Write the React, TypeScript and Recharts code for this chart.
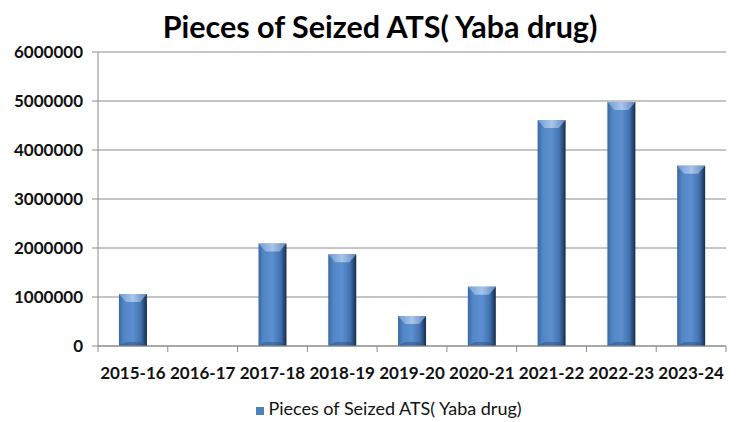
import React from 'react';
import { BarChart, Bar, XAxis, YAxis, CartesianGrid, Legend } from 'recharts';

const years = ['2015-16', '2016-17', '2017-18', '2018-19', '2019-20', '2020-21', '2021-22', '2022-23', '2023-24'];
const seized = [1060000, 0, 2090000, 1870000, 610000, 1210000, 4610000, 4980000, 3680000];
const yTicks = [0, 1000000, 2000000, 3000000, 4000000, 5000000, 6000000];

const SERIES = 'Pieces of Seized ATS( Yaba drug)';
const FONT = 'Lato, "Open Sans", sans-serif';

const data = years.map((year, i) => ({ year, value: seized[i] }));

const BevelBar = (props: any) => {
  const { x, y, width, height } = props;
  if (!height || height <= 0) return null;
  const b = Math.min(8, height / 2);
  const inset = Math.min(7, width / 4);
  return (
    <g>
      <rect x={x} y={y} width={width} height={height} fill="url(#barBody)" />
      <polygon
        points={`${x},${y} ${x + width},${y} ${x + width - inset},${y + b} ${x + inset},${y + b}`}
        fill="url(#barTop)"
      />
      <polygon
        points={`${x},${y + height} ${x + width},${y + height} ${x + width - inset},${y + height - 4} ${x + inset},${y + height - 4}`}
        fill="#2a4c7c"
        opacity={0.45}
      />
    </g>
  );
};

const YearTick = (props: any) => {
  const { x, y, payload, index, width, visibleTicksCount } = props;
  const band = (width || 628) / (visibleTicksCount || years.length);
  const half = band / 2;
  return (
    <g>
      <line x1={x - half} y1={y} x2={x - half} y2={y + 6} stroke="#8c8c8c" />
      {index === years.length - 1 && (
        <line x1={x + half} y1={y} x2={x + half} y2={y + 6} stroke="#8c8c8c" />
      )}
      <text x={x} y={y + 33} textAnchor="middle" fontFamily={FONT} fontWeight={700} fontSize={17} fill="#111">
        {payload.value}
      </text>
    </g>
  );
};

export default function App() {
  return (
    <div style={{ position: 'relative', width: 740, height: 414 }}>
      <div style={{ position: 'absolute', left: -4, top: 4, width: 1, height: 420, background: '#a6a6a6' }} />
      <div
        style={{
          position: 'absolute',
          left: -8,
          top: 0,
          width: 760,
          textAlign: 'center',
          fontFamily: FONT,
          fontWeight: 700,
          fontSize: 30.5,
          color: '#000',
          zIndex: 1,
        }}
      >
        {SERIES}
      </div>
      <BarChart
        width={740}
        height={414}
        data={data}
        margin={{ top: 44, right: 22, left: 0, bottom: 0 }}
        barCategoryGap="30%"
      >
        <defs>
          <linearGradient id="barBody" x1="0" y1="0" x2="1" y2="0">
            <stop offset="0%" stopColor="#3a67a3" />
            <stop offset="18%" stopColor="#5287c6" />
            <stop offset="50%" stopColor="#5b8fd0" />
            <stop offset="78%" stopColor="#4272b0" />
            <stop offset="100%" stopColor="#162c4d" />
          </linearGradient>
          <linearGradient id="barTop" x1="0" y1="0" x2="1" y2="0">
            <stop offset="0%" stopColor="#6f9bd3" />
            <stop offset="50%" stopColor="#a9c5ea" />
            <stop offset="100%" stopColor="#5d86bd" />
          </linearGradient>
        </defs>
        <CartesianGrid vertical={false} stroke="#8c8c8c" />
        <XAxis
          dataKey="year"
          axisLine={{ stroke: '#8c8c8c' }}
          tickLine={false}
          tickSize={0}
          tickMargin={0}
          height={54}
          interval={0}
          tick={<YearTick />}
        />
        <YAxis
          width={90}
          domain={[0, 6000000]}
          ticks={yTicks}
          axisLine={{ stroke: '#8c8c8c' }}
          tickLine={{ stroke: '#8c8c8c' }}
          tickSize={6}
          tickMargin={9}
          tick={{ fontFamily: FONT, fontWeight: 700, fontSize: 17, fill: '#111' }}
        />
        <Legend
          verticalAlign="bottom"
          iconType="square"
          iconSize={8}
          wrapperStyle={{ left: 27, bottom: 3 }}
          formatter={(v: string) => (
            <span style={{ color: '#111', fontFamily: FONT, fontSize: 18 }}>{v}</span>
          )}
        />
        <Bar dataKey="value" name={SERIES} fill="#4f81bd" shape={<BevelBar />} isAnimationActive={false} />
      </BarChart>
    </div>
  );
}
